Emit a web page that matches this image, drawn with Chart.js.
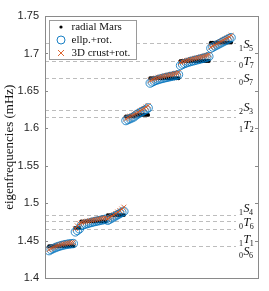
<!DOCTYPE html>
<html>
<head>
<meta charset="utf-8">
<script src="https://cdn.jsdelivr.net/npm/chart.js@4/dist/chart.umd.min.js"></script>
<style>
  html, body { margin: 0; padding: 0; background: #fff; }
  #wrap { width: 269px; height: 291px; }
</style>
</head>
<body>
<div id="wrap"><canvas id="c" width="269" height="291"></canvas></div>
<script>
// multiplets, in the order they appear along the x axis
const modeN    = [0, 1, 0, 1, 1, 2, 0, 0, 1];
const modeType = ['S', 'T', 'T', 'S', 'T', 'S', 'S', 'T', 'S'];
const modeL    = [6, 1, 6, 4, 2, 3, 7, 7, 5];
// degenerate frequency of each multiplet (dashed lines), mHz
const modeFreq = [1.4430, 1.4662, 1.4760, 1.4845, 1.6150, 1.6245, 1.6670, 1.6900, 1.7140];

// singlet frequencies, one list per multiplet (mHz)
const radialMars = [
    [1.4430, 1.4430, 1.4430, 1.4430, 1.4430, 1.4430, 1.4430, 1.4430, 1.4430, 1.4430, 1.4430, 1.4430, 1.4430],
    [1.4675, 1.4675, 1.4675],
    [1.4760, 1.4760, 1.4760, 1.4760, 1.4760, 1.4760, 1.4760, 1.4760, 1.4760, 1.4760, 1.4760, 1.4760, 1.4760],
    [1.4845, 1.4845, 1.4845, 1.4845, 1.4845, 1.4845, 1.4845, 1.4845, 1.4845],
    [1.6160, 1.6160, 1.6160, 1.6160, 1.6160],
    [1.6180, 1.6180, 1.6180, 1.6180, 1.6180, 1.6180, 1.6180],
    [1.6670, 1.6670, 1.6670, 1.6670, 1.6670, 1.6670, 1.6670, 1.6670, 1.6670, 1.6670, 1.6670, 1.6670, 1.6670, 1.6670, 1.6670],
    [1.6900, 1.6900, 1.6900, 1.6900, 1.6900, 1.6900, 1.6900, 1.6900, 1.6900, 1.6900, 1.6900, 1.6900, 1.6900, 1.6900, 1.6900],
    [1.7145, 1.7145, 1.7145, 1.7145, 1.7145, 1.7145, 1.7145, 1.7145, 1.7145, 1.7145, 1.7145]
];
const ellpRot = [
    [1.4370, 1.4385, 1.4398, 1.4410, 1.4420, 1.4429, 1.4437, 1.4444, 1.4450, 1.4455, 1.4459, 1.4462, 1.4465],
    [1.4620, 1.4640, 1.4660],
    [1.4705, 1.4715, 1.4724, 1.4732, 1.4740, 1.4747, 1.4754, 1.4760, 1.4766, 1.4772, 1.4778, 1.4784, 1.4790],
    [1.4775, 1.4790, 1.4805, 1.4820, 1.4835, 1.4850, 1.4865, 1.4880, 1.4895],
    [1.6105, 1.6118, 1.6130, 1.6142, 1.6155],
    [1.6180, 1.6195, 1.6210, 1.6225, 1.6240, 1.6255, 1.6275],
    [1.6605, 1.6620, 1.6632, 1.6643, 1.6652, 1.6660, 1.6667, 1.6674, 1.6680, 1.6686, 1.6692, 1.6698, 1.6704, 1.6710, 1.6718],
    [1.6840, 1.6855, 1.6866, 1.6876, 1.6885, 1.6893, 1.6900, 1.6907, 1.6914, 1.6921, 1.6928, 1.6935, 1.6942, 1.6950, 1.6960],
    [1.7070, 1.7085, 1.7100, 1.7114, 1.7128, 1.7142, 1.7156, 1.7170, 1.7184, 1.7198, 1.7212]
];
const crustRot = [
    [1.4385, 1.4400, 1.4413, 1.4425, 1.4435, 1.4444, 1.4452, 1.4459, 1.4465, 1.4470, 1.4474, 1.4477, 1.4480],
    [1.4665, 1.4700, 1.4730],
    [1.4745, 1.4752, 1.4758, 1.4764, 1.4769, 1.4774, 1.4779, 1.4784, 1.4789, 1.4794, 1.4799, 1.4804, 1.4810],
    [1.4800, 1.4815, 1.4830, 1.4848, 1.4865, 1.4885, 1.4905, 1.4925, 1.4950],
    [1.6130, 1.6145, 1.6160, 1.6172, 1.6185],
    [1.6200, 1.6215, 1.6232, 1.6250, 1.6267, 1.6285, 1.6305],
    [1.6640, 1.6652, 1.6663, 1.6672, 1.6680, 1.6687, 1.6694, 1.6700, 1.6706, 1.6712, 1.6718, 1.6724, 1.6730, 1.6737, 1.6745],
    [1.6880, 1.6890, 1.6898, 1.6906, 1.6913, 1.6920, 1.6927, 1.6933, 1.6940, 1.6946, 1.6952, 1.6959, 1.6966, 1.6975, 1.6985],
    [1.7085, 1.7100, 1.7115, 1.7130, 1.7145, 1.7160, 1.7175, 1.7190, 1.7205, 1.7220, 1.7240]
];

const yTicks = [1.4, 1.45, 1.5, 1.55, 1.6, 1.65, 1.7, 1.75];
const seriesNames = ['radial Mars', 'ellp.+rot.', '3D crust+rot.'];

// vertical nudge of each mode label against its dashed line (px)
const labelShift = [5, 10, 1, -7, 8, -3, 0, 0, 1];

const BLUE = '#0072BD';
const ORANGE = '#D95319';
const SERIF = '"Liberation Serif", "DejaVu Serif", serif';

// flatten multiplets into singlet points along a running index
function toPoints(groups) {
    const pts = [];
    let i = 0;
    groups.forEach(g => g.forEach(v => { pts.push({ x: i, y: v }); i++; }));
    return pts;
}

const modePlugin = {
    id: 'modes',
    beforeDatasetsDraw(chart) {
        const { ctx, chartArea: a, scales: { y } } = chart;
        ctx.save();
        ctx.strokeStyle = '#bdbdbd';
        ctx.lineWidth = 1;
        ctx.setLineDash([4, 3]);
        modeFreq.forEach(f => {
            const py = Math.round(y.getPixelForValue(f)) + 0.5;
            ctx.beginPath();
            ctx.moveTo(a.left, py);
            ctx.lineTo(a.right - 22, py);
            ctx.stroke();
        });
        ctx.restore();
    },
    afterDraw(chart) {
        const { ctx, chartArea: a, scales: { y } } = chart;
        ctx.save();

        // mode labels  nX_l
        ctx.fillStyle = '#111';
        ctx.textBaseline = 'alphabetic';
        ctx.textAlign = 'left';
        modeFreq.forEach((f, k) => {
            const cy = y.getPixelForValue(f) + labelShift[k];
            let x = a.right - 19;
            ctx.font = '8px ' + SERIF;
            ctx.fillText(String(modeN[k]), x, cy + 7);
            x += ctx.measureText(String(modeN[k])).width + 0.5;
            ctx.font = 'italic 12px ' + SERIF;
            ctx.fillText(modeType[k], x, cy + 4);
            x += ctx.measureText(modeType[k]).width - 0.5;
            ctx.font = '8px ' + SERIF;
            ctx.fillText(String(modeL[k]), x, cy + 7);
        });

        // axes box and inward ticks
        ctx.strokeStyle = '#8a8a8a';
        ctx.lineWidth = 1;
        ctx.strokeRect(Math.round(a.left) + 0.5, Math.round(a.top) + 0.5,
            Math.round(a.right - a.left), Math.round(a.bottom - a.top));
        yTicks.forEach(t => {
            const py = Math.round(y.getPixelForValue(t)) + 0.5;
            ctx.beginPath();
            ctx.moveTo(a.left, py); ctx.lineTo(a.left + 3, py);
            ctx.moveTo(a.right, py); ctx.lineTo(a.right - 3, py);
            ctx.stroke();
        });

        // legend
        const lx = 49.5, ly = 20.5, lw = 87, lh = 39;
        ctx.fillStyle = '#fff';
        ctx.fillRect(lx, ly, lw, lh);
        ctx.strokeStyle = '#9a9a9a';
        ctx.strokeRect(lx, ly, lw, lh);
        ctx.font = '11px ' + SERIF;
        ctx.textBaseline = 'middle';
        seriesNames.forEach((name, k) => {
            const ry = ly + 6.5 + k * 13;
            const mx = lx + 11.5;
            if (k === 0) {
                ctx.fillStyle = '#000';
                ctx.beginPath(); ctx.arc(mx, ry, 1.6, 0, Math.PI * 2); ctx.fill();
            } else if (k === 1) {
                ctx.strokeStyle = BLUE; ctx.lineWidth = 0.9;
                ctx.beginPath(); ctx.arc(mx, ry, 4, 0, Math.PI * 2); ctx.stroke();
            } else {
                ctx.strokeStyle = ORANGE; ctx.lineWidth = 0.9;
                ctx.beginPath();
                ctx.moveTo(mx - 3, ry - 3); ctx.lineTo(mx + 3, ry + 3);
                ctx.moveTo(mx - 3, ry + 3); ctx.lineTo(mx + 3, ry - 3);
                ctx.stroke();
            }
            ctx.fillStyle = '#111';
            ctx.fillText(name, lx + 22, ry + 0.5);
        });
        ctx.restore();
    }
};

new Chart(document.getElementById('c'), {
    type: 'scatter',
    data: {
        datasets: [
            {
                label: seriesNames[0],
                data: toPoints(radialMars),
                pointStyle: 'circle',
                pointRadius: 1.9,
                pointBorderWidth: 0,
                backgroundColor: '#000',
                borderColor: '#000',
                order: 2
            },
            {
                label: seriesNames[1],
                data: toPoints(ellpRot),
                pointStyle: 'circle',
                pointRadius: 4.2,
                pointBorderWidth: 0.8,
                backgroundColor: 'rgba(0,0,0,0)',
                borderColor: BLUE,
                order: 1
            },
            {
                label: seriesNames[2],
                data: toPoints(crustRot),
                pointStyle: 'crossRot',
                pointRadius: 3.5,
                pointBorderWidth: 0.8,
                backgroundColor: ORANGE,
                borderColor: ORANGE,
                order: 0
            }
        ]
    },
    options: {
        responsive: false,
        animation: false,
        events: [],
        layout: { padding: { left: 0, top: 16, right: 11, bottom: 10 } },
        scales: {
            x: {
                type: 'linear',
                display: false,
                min: -2,
                max: 103.3
            },
            y: {
                type: 'linear',
                min: 1.4,
                max: 1.75,
                afterBuildTicks: s => { s.ticks = yTicks.map(v => ({ value: v })); },
                afterFit: s => { s.width = 45; },
                grid: { display: false, drawTicks: false },
                border: { display: false },
                ticks: {
                    padding: 6,
                    color: '#262626',
                    font: { family: '"Liberation Sans", Arial, sans-serif', size: 11 },
                    callback: v => String(+v.toFixed(2))
                },
                title: {
                    display: true,
                    text: 'eigenfrequencies (mHz)',
                    color: '#111',
                    padding: { top: 2, bottom: 0 },
                    font: { family: SERIF, size: 13 }
                }
            }
        },
        plugins: {
            legend: { display: false },
            tooltip: { enabled: false }
        }
    },
    plugins: [modePlugin]
});
</script>
</body>
</html>
